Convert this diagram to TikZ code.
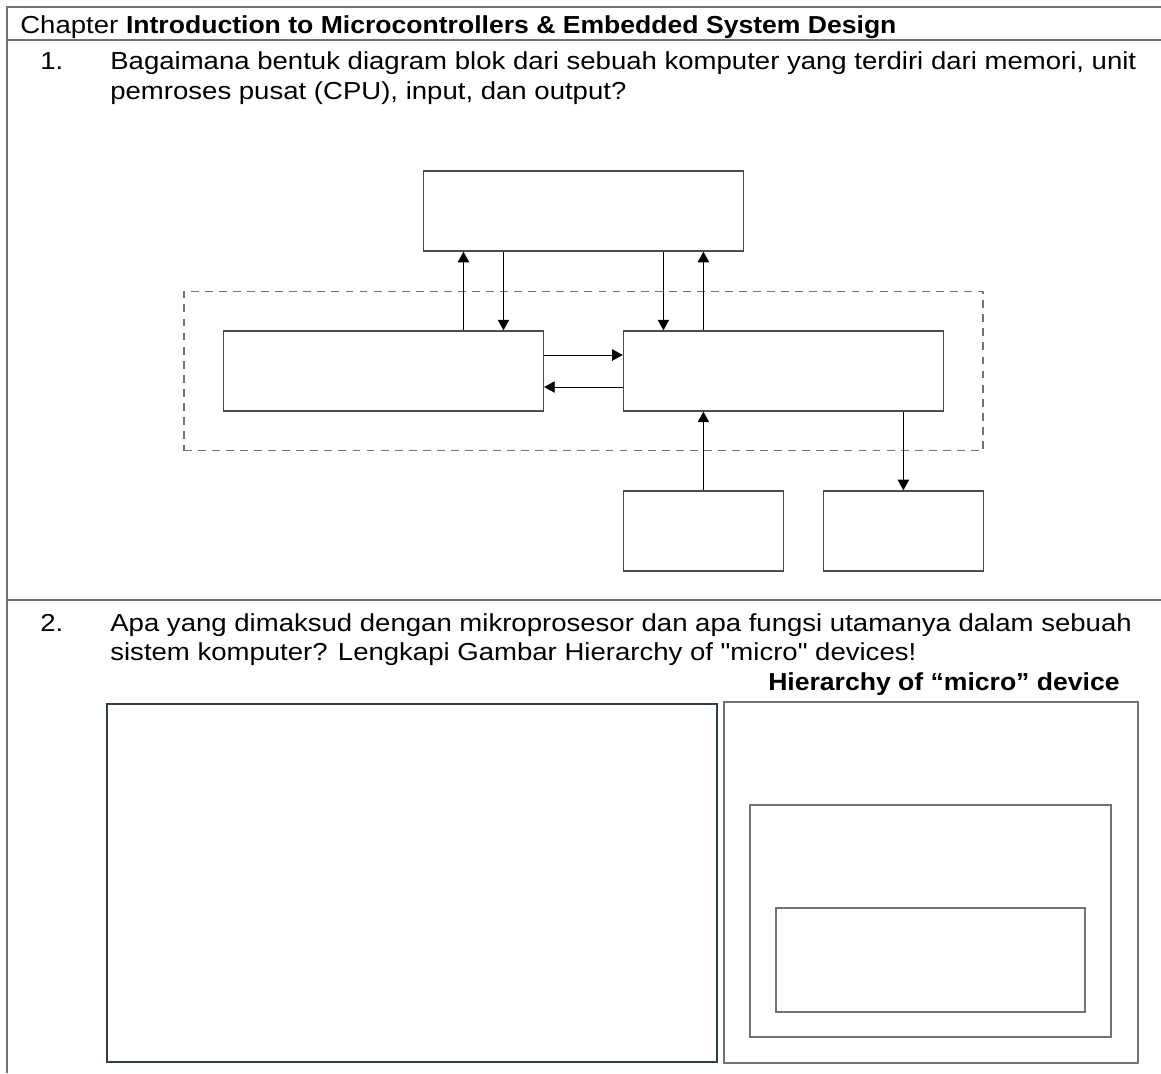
\documentclass[tikz,border=0pt]{standalone}
\usepackage{fontspec}
\setmainfont{Liberation Sans}[Ligatures=TeXOff,FakeStretch=1.12,BoldFeatures={FakeStretch=1.08}]
\usetikzlibrary{arrows.meta,fit,positioning}
\definecolor{gelap}{HTML}{2F3D44}

\begin{document}
\begin{tikzpicture}[x=0.02cm,y=-0.02cm,node distance=2cm,on grid,
	>={Triangle[length=6pt,width=6.5pt]},
	blok/.style={draw=black!70,line width=0.8pt,minimum width=6.4cm,minimum height=1.6cm,inner sep=0pt},
	blokkecil/.style={blok,minimum width=3.2cm},
	garis/.style={draw=black!55,line width=1pt},
	teks/.style={anchor=base west,inner sep=0pt,font=\fontsize{14}{16}\selectfont}]
		\useasboundingbox (0,0) rectangle (1161,1073);
		
		% kerangka tabel
		\draw[garis]	(1161,7) -- (7,7) -- (7,1073);
		\draw[garis]	(7,40) -- (1161,40);
		\draw[garis]	(7,600) -- (1161,600);
		
		\node[teks]					(t_bab)		at (20,33)		{Chapter \textbf{Introduction to Microcontrollers \& Embedded System Design}};
		\node[teks]					(t_n1)		at (40,69)		{1.};
		\node[teks]					(t_q1a)		at (110,69)		{Bagaimana bentuk diagram blok dari sebuah komputer yang terdiri dari memori, unit};
		\node[teks]					(t_q1b)		at (110,99)		{pemroses pusat (CPU), input, dan output?};
		
		% diagram blok
		\node[blok]					(b_cu)		at (383.5,371)	{};
		\node[blok]					(b_alu)		[right=8cm of b_cu]						{};
		\node[blok]					(b_mem)		[above right=3.2cm and 4cm of b_cu]		{};
		\node[blokkecil]			(b_in)		[below left=3.2cm and 1.6cm of b_alu]	{};
		\node[blokkecil]			(b_out)		[right=4cm of b_in]						{};
		\node[draw=black!55,line width=0.8pt,dash pattern=on 4.5pt off 3.5pt,fit=(b_cu)(b_alu),inner sep=0.78cm] (b_cpu) {};
		
		\path[->]	([xshift=1.6cm]b_cu.north)		edge	([xshift=1.6cm]b_cu.north |- b_mem.south)
					([xshift=2.4cm]b_cu.north |- b_mem.south)	edge	([xshift=2.4cm]b_cu.north)
					([xshift=-2.4cm]b_alu.north |- b_mem.south)	edge	([xshift=-2.4cm]b_alu.north)
					([xshift=-1.6cm]b_alu.north)	edge	([xshift=-1.6cm]b_alu.north |- b_mem.south)
					([yshift=0.32cm]b_cu.east)		edge	([yshift=0.32cm]b_cu.east -| b_alu.west)
					([yshift=-0.32cm]b_alu.west)	edge	([yshift=-0.32cm]b_alu.west -| b_cu.east)
					(b_in.north)					edge	(b_in.north |- b_alu.south)
					(b_out.north |- b_alu.south)	edge	(b_out.north);
		
		\node[teks]					(t_n2)		at (40,631)		{2.};
		\node[teks]					(t_q2a)		at (110,631)	{Apa yang dimaksud dengan mikroprosesor dan apa fungsi utamanya dalam sebuah};
		\node[teks]					(t_q2b)		at (110,660)	{sistem komputer? Lengkapi Gambar Hierarchy of "micro" devices!};
		\node[teks,anchor=base east]	(t_judul)	at (1120,690)	{\textbf{Hierarchy of “micro” device}};
		
		% kotak jawaban dan hirarki
		\draw[gelap,line width=1.3pt]	(107,704) rectangle (717,1062);
		\draw[garis]	(724,702) rectangle (1138,1063);
		\draw[garis]	(750,805) rectangle (1111,1037);
		\draw[garis]	(776,908) rectangle (1085,1012);
	\end{tikzpicture}
\end{document}
